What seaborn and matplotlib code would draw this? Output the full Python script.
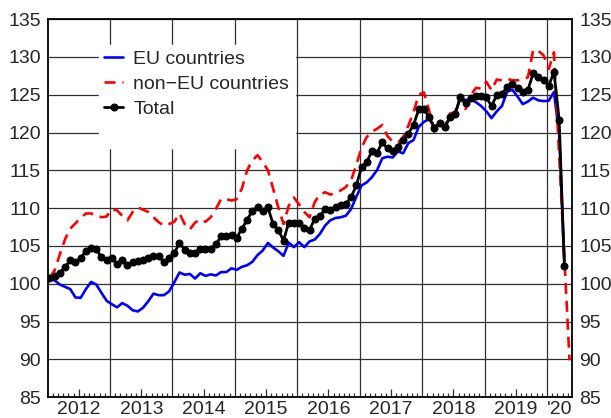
import numpy as np
import pandas as pd
import matplotlib
matplotlib.use("Agg")
import matplotlib.pyplot as plt
import seaborn as sns

# monthly index values, starting January 2012
eu_countries = [
    100.6, 100.45, 99.9, 99.6, 99.3, 98.2, 98.15, 99.3, 100.25, 99.9, 98.8, 97.75,
    97.3, 96.9, 97.45, 97.1, 96.5, 96.35, 96.85, 97.7, 98.7, 98.5, 98.5, 99.0,
    100.2, 101.5, 101.2, 101.3, 100.7, 101.4, 101.05, 101.25, 101.1, 101.55, 101.55, 102.05,
    101.85, 102.25, 102.45, 102.9, 103.8, 104.4, 105.4, 104.8, 104.3, 103.7, 105.45, 104.85,
    105.5, 104.85, 105.6, 105.85, 106.6, 107.7, 108.4, 108.7, 108.8, 109.0, 109.9, 111.5,
    113.0, 113.4, 114.1, 115.05, 116.6, 116.8, 116.7, 117.5, 117.25, 118.6, 119.0, 120.75,
    121.4, 121.8, 120.8, 121.1, 120.7, 122.0, 122.5, 124.5, 124.3, 124.4, 124.0, 123.5,
    122.8, 121.9, 122.8, 123.5, 125.4, 125.65, 124.75, 123.75, 124.1, 124.6, 124.25, 124.15,
    124.2, 125.35, 119.8, 103.0,
]
non_eu_countries = [
    100.8, 101.8, 103.9, 105.9, 107.3, 108.0, 108.7, 109.3, 109.3, 109.1, 108.8, 108.9,
    109.9, 109.7, 109.0, 108.4, 109.5, 110.1, 109.8, 109.5, 108.8, 108.15, 107.7, 107.9,
    108.2, 109.3, 107.9, 107.2, 108.1, 108.5, 108.2, 108.8, 109.9, 111.2, 111.2, 111.0,
    111.2, 112.6, 115.0, 116.3, 117.0, 116.1, 115.0, 112.6, 110.1, 107.9, 110.3, 111.4,
    110.5, 109.5, 108.8, 110.8, 111.8, 112.1, 111.8, 112.0, 112.35, 112.8, 113.7, 115.7,
    118.0, 119.4, 120.1, 120.5, 121.0, 119.5, 118.8, 118.6, 119.4, 120.9, 122.7, 125.0,
    125.3, 122.9, 120.1, 121.0, 120.8, 122.5, 122.7, 124.7, 123.1, 124.9, 125.9, 125.8,
    126.7, 125.6, 127.0, 126.9, 127.1, 126.9, 126.9, 127.0, 127.3, 130.9, 130.8, 130.2,
    128.4, 130.6, 117.0, 103.5, 89.9,
]
total = [
    100.8, 101.0, 101.4, 102.25, 103.1, 102.85, 103.4, 104.35, 104.8, 104.55, 103.5, 103.15,
    103.35, 102.65, 103.15, 102.55, 102.85, 103.05, 103.2, 103.45, 103.65, 103.7, 102.85, 103.4,
    104.05, 105.4, 104.5, 104.1, 104.1, 104.65, 104.6, 104.6, 105.2, 106.3, 106.3, 106.5,
    106.1, 107.3, 108.45, 109.65, 110.15, 109.6, 110.1, 107.9, 107.15, 105.7, 108.1, 108.05,
    108.0, 107.4, 107.1, 108.6, 108.9, 109.95, 109.7, 110.2, 110.45, 110.6, 111.45, 113.0,
    115.4, 116.15, 117.5, 117.35, 118.7, 117.9, 117.55, 118.15, 119.0, 119.85, 121.0, 123.05,
    123.1, 122.0, 120.65, 121.2, 120.7, 122.0, 122.45, 124.7, 123.9, 124.6, 124.85, 124.85,
    124.65, 123.5, 124.95, 125.05, 126.05, 126.45, 125.9, 125.35, 125.65, 127.8, 127.35, 127.0,
    126.15, 128.05, 121.7, 102.4,
]

year_labels = ["2012", "2013", "2014", "2015", "2016", "2017", "2018", "2019", "'20"]
y_ticks = [85, 90, 95, 100, 105, 110, 115, 120, 125, 130, 135]

months = pd.period_range("2012-01", periods=len(non_eu_countries), freq="M")
df = pd.DataFrame({
    "t": months.year + (months.month - 1 + 0.35) / 12,
    "EU": eu_countries + [np.nan] * (len(months) - len(eu_countries)),
    "nonEU": non_eu_countries,
    "Total": total + [np.nan] * (len(months) - len(total)),
})

sns.set_theme(style="white")
plt.rcParams["font.family"] = ["Liberation Sans", "DejaVu Sans"]

fig = plt.figure(figsize=(6.11, 4.18), dpi=100)
ax = fig.add_axes([0.078, 0.0495, 0.8587, 0.905])

sns.lineplot(data=df, x="t", y="EU", ax=ax, color="#0000ff", linewidth=1.9,
             label="EU countries")
sns.lineplot(data=df, x="t", y="nonEU", ax=ax, color="#ff0000", linewidth=1.9,
             linestyle=(0, (4.2, 2.6)), label="non\u2212EU countries")
sns.lineplot(data=df, x="t", y="Total", ax=ax, color="black", linewidth=2.0,
             marker="o", markersize=5, markeredgecolor="black", label="Total")

ax.set_xlim(2012, 2020.407)
ax.set_ylim(85, 135)
ax.set_xlabel("")
ax.set_ylabel("")

# grid: horizontal at the ticks, vertical at year boundaries
ax.set_yticks(y_ticks)
ax.yaxis.grid(True, color="#303030", linewidth=0.9)
for yr in range(2013, 2021):
    ax.axvline(yr, color="#303030", linewidth=0.9, zorder=0.5)
ax.set_axisbelow(True)

major = [yr + 0.5 for yr in range(2012, 2020)] + [2020.2]
ax.set_xticks(major)
ax.set_xticklabels(year_labels)
minor = [yr + m / 12 for yr in range(2012, 2020) for m in range(1, 12) if m != 6]
minor += [2020 + m / 12 for m in range(1, 5)]
ax.set_xticks(minor, minor=True)
ax.tick_params(axis="x", which="major", direction="in", length=6, width=0.9,
               color="#303030", labelsize=14, pad=3, bottom=True)
ax.tick_params(axis="x", which="minor", direction="in", length=3, width=0.9,
               color="#303030", bottom=True)
ax.xaxis.get_major_ticks()[-1].tick1line.set_visible(False)
ax.tick_params(axis="y", which="both", length=0, labelsize=14, pad=5,
               left=True, right=True, labelleft=True, labelright=True)

for sp in ax.spines.values():
    sp.set_color("black")
    sp.set_linewidth(1.3)
    sp.set_visible(True)

# legend with a trailing empty row, white box without border
handles, labels = ax.get_legend_handles_labels()
blank = plt.Line2D([], [], color="none")
leg = ax.legend(handles + [blank], labels + [""], loc="upper left",
                bbox_to_anchor=(0.098, 0.931), borderaxespad=0, fontsize=14,
                handlelength=0.95, handletextpad=0.55, labelspacing=0.37,
                borderpad=0.27, frameon=True, fancybox=False, framealpha=1,
                facecolor="white", edgecolor="white")

fig.savefig("out.png", dpi=100)
